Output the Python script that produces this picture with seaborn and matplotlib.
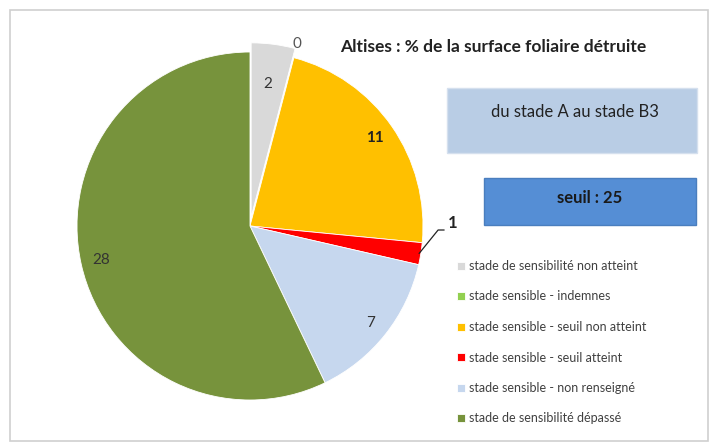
import numpy as np
import matplotlib
matplotlib.use("Agg")
import matplotlib.pyplot as plt
from matplotlib.patches import Rectangle
import seaborn as sns

categories = ["stade de sensibilité non atteint", "stade sensible - indemnes",
              "stade sensible - seuil non atteint", "stade sensible - seuil atteint",
              "stade sensible - non renseigné", "stade de sensibilité dépassé"]
values = [2, 0, 11, 1, 7, 28]
colors = ["#d9d9d9", "#92d050", "#ffc000", "#ff0000", "#c6d7ee", "#77933c"]
title = "Altises : % de la surface foliaire détruite"
box1_text = "du stade A au stade B3"
box2_text = "seuil : 25"

sns.set_theme(style="white")
plt.rcParams['font.family'] = ['Lato', 'DejaVu Sans']

W, H = 719, 445
fig = plt.figure(figsize=(W / 100, H / 100), dpi=100)
fig.patch.set_facecolor("white")

# outer frame
fig.patches.append(Rectangle((10 / W, 4 / H), 698 / W, 431 / H, transform=fig.transFigure,
                             facecolor="none", edgecolor="#cfcfcf", lw=1.2, zorder=0))

rx, ry = 173, 174
cx, cy = 250, 226
lim = 1.2
ax = fig.add_axes([(cx - lim * rx) / W, (H - cy - lim * ry) / H, 2 * lim * rx / W, 2 * lim * ry / H])
ax.set_zorder(2)
explode = [0.053, 0, 0, 0, 0, 0]
wedges, _ = ax.pie(values, colors=colors, startangle=90, counterclock=False, explode=explode,
                   wedgeprops=dict(edgecolor="white", linewidth=0.6))
ax.set_aspect("auto")
ax.set_xlim(-lim, lim)
ax.set_ylim(-lim, lim)
ax.axis("off")

label_r = [0.82, 1.08, 0.88, None, 0.89, 0.88]
label_w = ["normal", "normal", "bold", "bold", "normal", "normal"]
label_c = ["#333333", "#555555", "#222222", "#222222", "#333333", "#333333"]
for i, (w, v) in enumerate(zip(wedges, values)):
    th = np.deg2rad((w.theta1 + w.theta2) / 2)
    if label_r[i] is not None:
        ax.text(label_r[i] * np.cos(th), label_r[i] * np.sin(th), str(v), ha="center", va="center",
                fontsize=11, fontweight=label_w[i], color=label_c[i])
    else:
        x0, y0 = np.cos(th) * 0.99, np.sin(th) * 0.99
        xs = [x0, x0 + 0.11, x0 + 0.145]
        ys = [y0, y0 + 0.135, y0 + 0.135]
        ax.plot(xs, ys, color="#222222", lw=0.9)
        ax.text(xs[-1] + 0.02, ys[-1] + 0.04, str(v), ha="left", va="center",
                fontsize=12, fontweight="bold", color="#222222")

fig.text(493 / W, 1 - 47 / H, title, ha="center", va="center", fontsize=12.5, fontweight="bold",
         color="#222222")

fig.patches.append(Rectangle((447 / W, 1 - 153 / H), 250 / W, 65 / H, transform=fig.transFigure,
                             facecolor="#b9cde5", edgecolor="#d5e0ee", lw=1))
fig.text(575 / W, 1 - 112 / H, box1_text, ha="center", va="center", fontsize=12, color="#222222")

fig.patches.append(Rectangle((484 / W, 1 - 225 / H), 212 / W, 47 / H, transform=fig.transFigure,
                             facecolor="#558ed5", edgecolor="#4a7ebe", lw=1))
fig.text(590 / W, 1 - 198 / H, box2_text, ha="center", va="center", fontsize=12,
         fontweight="bold", color="#1a1a1a")

leg = fig.legend(wedges, categories, loc="upper left", bbox_to_anchor=(457 / W, 1 - 260 / H),
                 frameon=False, fontsize=9, handlelength=0.6, handleheight=0.6,
                 handletextpad=0.35, labelspacing=1.48, borderpad=0, borderaxespad=0)
for t in leg.get_texts():
    t.set_color("#404040")

fig.savefig("out.png", dpi=100, facecolor="white")
